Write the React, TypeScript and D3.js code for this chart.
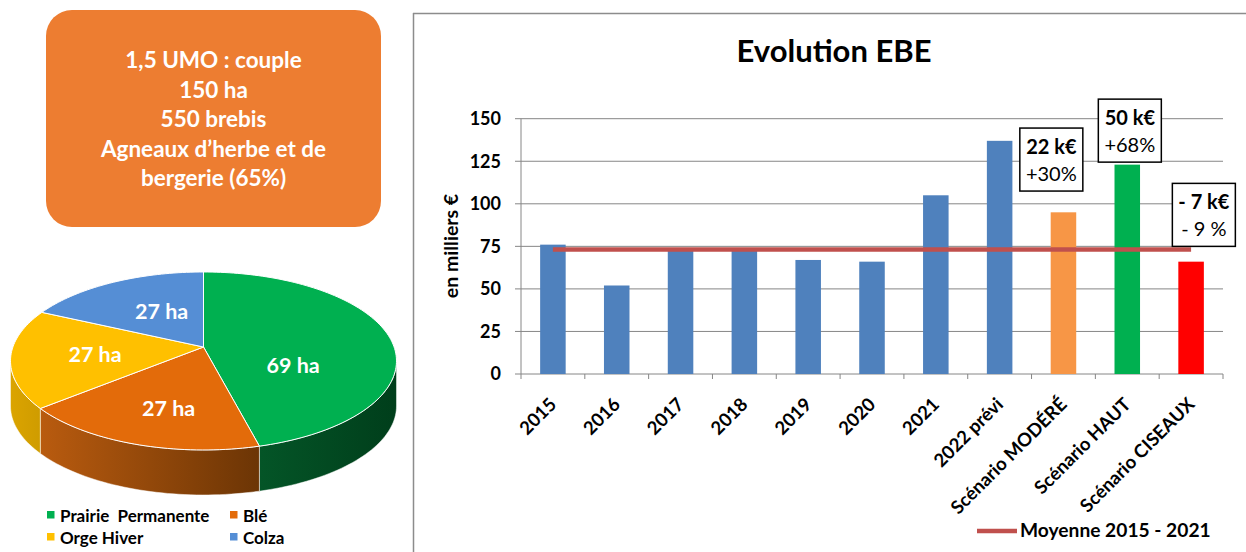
import React from "react";
import * as d3 from "d3";

// ---------- Data ----------
const categories = [
  "2015", "2016", "2017", "2018", "2019", "2020", "2021",
  "2022 prévi", "Scénario MODÉRÉ", "Scénario HAUT", "Scénario CISEAUX",
];
const ebeValues = [76, 52, 73, 73, 67, 66, 105, 137, 95, 123, 66];
const barColors = [
  "#4F81BD", "#4F81BD", "#4F81BD", "#4F81BD", "#4F81BD", "#4F81BD", "#4F81BD",
  "#4F81BD", "#F79646", "#00B050", "#FF0000",
];
const yTicks = [0, 25, 50, 75, 100, 125, 150];
const averageYearsCount = 7; // 2015 - 2021
const legendLabel = "Moyenne 2015 - 2021";
const chartTitle = "Evolution EBE";
const yAxisTitle = "en milliers €";

const annotationIndex = [8, 9, 10];
const annotationMain = ["22 k€", "50 k€", "- 7 k€"];
const annotationSub = ["+30%", "+68%", "- 9 %"];
const annotationTopValue = [144.5, 161.5, 112];
const annotationShift = [-0.19, 0.04, 0.2];

const infoLines = [
  "1,5 UMO : couple",
  "150 ha",
  "550 brebis",
  "Agneaux d’herbe et de",
  "bergerie (65%)",
];

const cropNames = ["Prairie  Permanente", "Blé", "Orge Hiver", "Colza"];
const cropAreas = [69, 27, 27, 27];
const cropColors = ["#00B050", "#E36B0A", "#FFC000", "#558ED5"];
const cropSideFrom = ["#045527", "#B95B0F", "#DBA400", "#3F6FA8"];
const cropSideTo = ["#003E1B", "#6C3505", "#CF9C00", "#2C4F7A"];
const labelNudge = [[-4, 31.5], [-3, 24.5], [-13, 9.5], [6, 6.5]];

const FONT = "Lato, 'Open Sans', sans-serif";

// ---------- Bar chart ----------
function BarChart() {
  const x = d3.scaleBand<string>().domain(categories).range([521, 1223]);
  const y = d3.scaleLinear().domain([0, 150]).range([374, 118.7]);
  const bw = x.bandwidth();
  const barW = bw * 0.4;
  const mean = d3.mean(ebeValues.slice(0, averageYearsCount)) as number;
  const cx = (c: string) => (x(c) as number) + bw / 2;
  const first = categories[0];
  const last = categories[categories.length - 1];

  return (
    <g fontFamily={FONT}>
      {/* frame */}
      <line x1={413} y1={13.5} x2={1246} y2={13.5} stroke="#8c8c8c" strokeWidth={1.5} />
      <line x1={413.5} y1={13} x2={413.5} y2={552} stroke="#8c8c8c" strokeWidth={1.5} />
      <text x={834} y={62} textAnchor="middle" fontSize={31} fontWeight="bold" fill="#000">
        {chartTitle}
      </text>
      {/* gridlines + y ticks */}
      {yTicks.map((t) => (
        <g key={t}>
          <line x1={515} x2={1223} y1={y(t)} y2={y(t)} stroke="#868686" strokeWidth={1} />
          <text x={501} y={y(t)} dy="0.35em" textAnchor="end" fontSize={18} fontWeight="bold" fill="#000">
            {t}
          </text>
        </g>
      ))}
      <line x1={521} x2={521} y1={y(150)} y2={y(0)} stroke="#868686" strokeWidth={1} />
      {/* x ticks */}
      {categories.map((c) => (
        <line key={"t" + c} x1={x(c)} x2={x(c)} y1={y(0)} y2={y(0) + 5} stroke="#868686" />
      ))}
      <line x1={1223} x2={1223} y1={y(0)} y2={y(0) + 5} stroke="#868686" />
      <text
        transform={`translate(451,246) rotate(-90)`}
        textAnchor="middle"
        dy="0.35em"
        fontSize={19.5}
        fontWeight="bold"
        fill="#000"
      >
        {yAxisTitle}
      </text>
      {/* bars */}
      {categories.map((c, i) => (
        <rect
          key={c}
          x={cx(c) - barW / 2}
          y={y(ebeValues[i])}
          width={barW}
          height={y(0) - y(ebeValues[i])}
          fill={barColors[i]}
        />
      ))}
      {/* average line */}
      <line
        x1={cx(first)}
        x2={cx(last)}
        y1={y(mean)}
        y2={y(mean)}
        stroke="#C0504D"
        strokeWidth={4.5}
      />
      {/* x labels */}
      {categories.map((c) => (
        <text
          key={"l" + c}
          transform={`translate(${cx(c) + 0},${y(0) + 27}) rotate(-45)`}
          textAnchor="end"
          dy="0.35em"
          fontSize={18.5}
          fontWeight="bold"
          fill="#000"
        >
          {c}
        </text>
      ))}
      {/* annotations */}
      {annotationIndex.map((idx, k) => {
        const c = categories[idx];
        const bx = cx(c) + annotationShift[k] * bw;
        const top = y(annotationTopValue[k]);
        const w = 63;
        const h = 63;
        return (
          <g key={"a" + k}>
            <rect x={bx - w / 2} y={top} width={w} height={h} fill="#fff" stroke="#000" strokeWidth={1.5} />
            <text x={bx} y={top + 26} textAnchor="middle" fontSize={20} fontWeight="bold" fill="#000">
              {annotationMain[k]}
            </text>
            <text x={bx} y={top + 53} textAnchor="middle" fontSize={20} fill="#000">
              {annotationSub[k]}
            </text>
          </g>
        );
      })}
      {/* legend */}
      <line x1={977} x2={1017} y1={531} y2={531} stroke="#C0504D" strokeWidth={4.5} />
      <text x={1020} y={537} fontSize={19.2} fontWeight="bold" fill="#000">
        {legendLabel}
      </text>
    </g>
  );
}

// ---------- Pie chart (3D, perspective) ----------
function PieChart() {
  const apexX = 203.5;
  const apexY = 347;
  const A = 190.6;
  const B = 86.8;
  const k = 0.157;
  const depth = 45;
  const proj = (theta: number, r = 1): [number, number] => {
    const s = Math.sin(theta) * r;
    const c = Math.cos(theta) * r;
    const w = 1 / (1 + k * c);
    return [apexX + A * s * w, apexY - B * c * w];
  };
  const arcs = d3.pie<number>().sort(null).value((d) => d)(cropAreas);
  const line = d3.line();
  const sample = (a0: number, a1: number, r = 1) => {
    const n = Math.max(8, Math.ceil(((a1 - a0) / Math.PI) * 120));
    return d3.range(n + 1).map((i) => proj(a0 + ((a1 - a0) * i) / n, r));
  };
  const silhouette = Math.acos(-k); // where x is extreme
  const visLo = silhouette;
  const visHi = 2 * Math.PI - silhouette;

  return (
    <g fontFamily={FONT}>
      <defs>
        {cropColors.map((_, i) => (
          <linearGradient key={i} id={`side${i}`} x1="0" x2="1" y1="0" y2="0">
            <stop offset="0%" stopColor={cropSideFrom[i]} />
            <stop offset="100%" stopColor={cropSideTo[i]} />
          </linearGradient>
        ))}
      </defs>
      {/* sides */}
      {arcs.map((a, i) => {
        const s0 = Math.max(a.startAngle, visLo);
        const s1 = Math.min(a.endAngle, visHi);
        if (s1 <= s0) return null;
        const topPts = sample(s0, s1);
        const botPts = topPts.map(([px, py]) => [px, py + depth] as [number, number]).reverse();
        const d = (line([...topPts, ...botPts]) as string) + "Z";
        return <path key={"s" + i} d={d} fill={`url(#side${i})`} stroke="#ffffff" strokeOpacity={0.6} strokeWidth={0.8} />;
      })}
      {/* tops */}
      {arcs.map((a, i) => {
        const pts = [[apexX, apexY] as [number, number], ...sample(a.startAngle, a.endAngle)];
        const d = (line(pts) as string) + "Z";
        return <path key={"t" + i} d={d} fill={cropColors[i]} stroke="#ffffff" strokeWidth={1} />;
      })}
      {/* labels */}
      {arcs.map((a, i) => {
        const mid = (a.startAngle + a.endAngle) / 2;
        const [lx, ly] = proj(mid, 0.5);
        return (
          <text
            key={"lb" + i}
            x={lx + labelNudge[i][0]}
            y={ly + labelNudge[i][1]}
            textAnchor="middle"
            fontSize={21.5}
            fontWeight="bold"
            fill="#fff"
          >
            {`${cropAreas[i]} ha`}
          </text>
        );
      })}
      {/* legend */}
      {cropNames.map((n, i) => {
        const col = i % 2;
        const row = Math.floor(i / 2);
        const lx = col === 0 ? 47 : 230;
        const ly = 522 + row * 22;
        return (
          <g key={"lg" + i}>
            <rect x={lx} y={ly - 11} width={7.5} height={7.5} fill={cropColors[i]} />
            <text x={lx + 13} y={ly} fontSize={17} fontWeight="bold" fill="#000" style={{ whiteSpace: "pre" }}>
              {n}
            </text>
          </g>
        );
      })}
    </g>
  );
}

function InfoBox() {
  const x0 = 46;
  const y0 = 10;
  const w = 335;
  const h = 217;
  return (
    <g fontFamily={FONT}>
      <rect x={x0} y={y0} width={w} height={h} rx={26} ry={26} fill="#ED7D31" />
      {infoLines.map((t, i) => (
        <text
          key={i}
          x={x0 + w / 2}
          y={68 + i * 29.5}
          textAnchor="middle"
          fontSize={22.5}
          fontWeight="bold"
          fill="#fff"
        >
          {t}
        </text>
      ))}
    </g>
  );
}

export default function App() {
  return (
    <svg
      width={1246}
      height={552}
      style={{ position: "absolute", left: 0, top: 0, background: "#fff" }}
    >
      <rect x={0} y={0} width={1246} height={552} fill="#fff" />
      <InfoBox />
      <PieChart />
      <BarChart />
    </svg>
  );
}
